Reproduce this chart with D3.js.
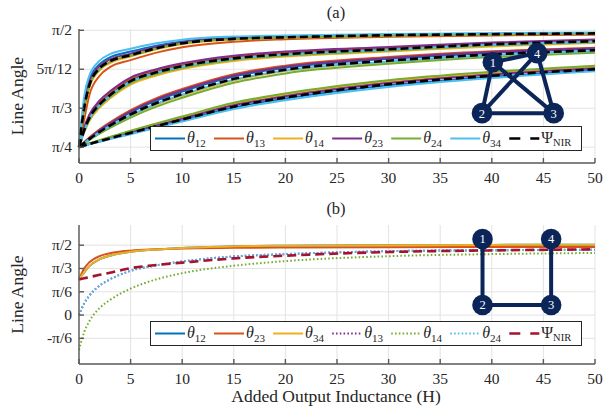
<!DOCTYPE html>
<html>
<head>
<meta charset="utf-8">
<script src="https://cdn.jsdelivr.net/npm/d3@7"></script>
<style>
  body { margin: 0; background: #fff; }
  text { font-family: "Liberation Serif", "DejaVu Serif", serif; fill: #262626; }
</style>
</head>
<body>
<div id="vis"></div>
<script>
// Sample points on the x axis (added output inductance, H)
const xs = [0, 0.5, 1, 2, 3, 5, 7.5, 10, 15, 20, 30, 40, 50];

// Panel (a): four cases (top bundle -> bottom bundle), angles in degrees
const aT12 = [
  [45, 62.5, 71.0, 77.0, 79.6, 81.8, 84.1, 85.7, 87.2, 87.7, 88.4, 88.8, 89.0],
  [45, 51.9, 56.7, 62.0, 65.5, 70.9, 74.2, 76.6, 79.5, 81.1, 83.0, 84.8, 86.0],
  [45, 46.7, 48.4, 51.4, 53.9, 58.4, 62.9, 66.4, 72.2, 75.6, 79.0, 81.3, 82.8],
  [45, 45.6, 46.2, 47.2, 48.3, 50.3, 52.9, 55.3, 60.3, 63.7, 68.8, 72.1, 74.7]
];
const aT13 = [
  [45, 55.5, 65.0, 72.5, 75.8, 78.5, 81.4, 83.5, 85.6, 86.6, 87.5, 88.0, 88.3],
  [45, 52.2, 57.1, 62.5, 66.0, 71.3, 74.6, 76.9, 79.8, 81.4, 83.2, 85.0, 86.2],
  [45, 46.9, 48.7, 51.9, 54.6, 59.3, 63.9, 67.4, 73.1, 76.4, 79.7, 81.9, 83.3],
  [45, 45.7, 46.3, 47.5, 48.7, 51.0, 53.7, 56.3, 61.5, 65.1, 70.2, 73.4, 75.8]
];
const aT14 = [
  [45, 59.0, 68.0, 74.6, 77.4, 79.9, 82.7, 84.7, 86.5, 87.1, 87.9, 88.4, 88.7],
  [45, 50.6, 55.1, 60.2, 63.7, 69.1, 72.6, 75.1, 78.2, 79.9, 81.8, 83.8, 85.1],
  [45, 46.5, 47.9, 50.6, 52.9, 57.1, 61.4, 64.9, 70.7, 74.3, 77.8, 80.3, 81.9],
  [45, 45.7, 46.4, 47.6, 48.8, 51.1, 53.9, 56.5, 61.7, 65.3, 70.4, 73.6, 76.0]
];
const aT23 = [
  [45, 61.0, 69.8, 76.2, 78.8, 81.0, 83.6, 85.4, 86.9, 87.5, 88.3, 88.6, 88.9],
  [45, 52.5, 57.5, 63.0, 66.5, 71.8, 75.0, 77.3, 80.2, 81.8, 83.6, 85.3, 86.5],
  [45, 46.8, 48.5, 51.6, 54.2, 58.8, 63.4, 66.9, 72.6, 76.0, 79.3, 81.6, 83.1],
  [45, 45.6, 46.3, 47.4, 48.6, 50.8, 53.4, 56.0, 61.1, 64.6, 69.7, 73.0, 75.4]
];
const aT24 = [
  [45, 59.5, 68.4, 75.0, 77.8, 80.2, 82.9, 84.9, 86.6, 87.2, 88.0, 88.5, 88.8],
  [45, 51.0, 55.6, 60.8, 64.3, 69.7, 73.2, 75.6, 78.7, 80.3, 82.2, 84.2, 85.4],
  [45, 46.4, 47.7, 50.2, 52.4, 56.4, 60.6, 64.0, 69.8, 73.4, 77.1, 79.7, 81.4],
  [45, 45.7, 46.4, 47.7, 48.9, 51.3, 54.1, 56.8, 62.1, 65.7, 70.8, 74.0, 76.4]
];
const aT34 = [
  [45, 64.5, 72.5, 78.3, 80.8, 82.9, 85.0, 86.4, 87.6, 88.0, 88.6, 88.9, 89.2],
  [45, 51.3, 55.9, 61.2, 64.7, 70.1, 73.6, 76.0, 79.0, 80.6, 82.5, 84.4, 85.6],
  [45, 46.5, 48.0, 50.7, 53.1, 57.3, 61.7, 65.2, 71.0, 74.5, 78.0, 80.4, 82.0],
  [45, 45.5, 46.1, 47.1, 48.1, 50.0, 52.5, 54.9, 59.7, 63.1, 68.2, 71.6, 74.2]
];
const aPsi = [
  [45, 60.0, 68.8, 75.4, 78.1, 80.4, 83.1, 85.0, 86.7, 87.3, 88.1, 88.5, 88.8],
  [45, 51.5, 56.2, 61.5, 65.0, 70.4, 73.8, 76.2, 79.2, 80.8, 82.7, 84.6, 85.8],
  [45, 46.6, 48.1, 50.9, 53.3, 57.6, 62.0, 65.5, 71.3, 74.8, 78.3, 80.7, 82.3],
  [45, 45.6, 46.2, 47.3, 48.4, 50.5, 53.1, 55.6, 60.6, 64.1, 69.2, 72.5, 75.0]
];

// Panel (b): square network, angles in degrees
const bT12 = [46, 55, 63, 72, 76.5, 81.5, 84.5, 86.5, 88.5, 89.3, 90.0, 90.4, 90.6];
const bT23 = [46, 60, 68, 76, 79.5, 83, 84.8, 85.8, 86.6, 87.0, 87.4, 87.6, 87.8];
const bT34 = [46, 55, 63, 72, 76.5, 81.5, 84.5, 86.5, 88.5, 89.3, 90.0, 90.4, 90.6];
const bT13 = [0, 15, 25, 38, 46, 57, 64, 69, 75.5, 78.5, 82.3, 83.5, 84.2];
const bT14 = [-45, -22, -8, 9, 19.5, 34, 46, 54, 63.5, 69.5, 75.8, 78.5, 80];
const bT24 = [0, 15, 25, 38, 46, 57, 64, 69, 75.5, 78.5, 82.3, 83.5, 84.2];
const bPsi = [45.9, 47.4, 48.9, 51.8, 54.5, 60.4, 64.5, 67.5, 73, 76.5, 81.2, 83.3, 84.6];

// Ticks
const xTicks = [0, 5, 10, 15, 20, 25, 30, 35, 40, 45, 50];
const aTicks = [45, 60, 75, 90];
const aTickLabels = ['π/4', 'π/3', '5π/12', 'π/2'];
const bTicks = [-30, 0, 30, 60, 90];
const bTickLabels = ['-π/6', '0', 'π/6', 'π/3', 'π/2'];

// Network diagrams (node positions in data units of each panel)
const aNodes = [[1, 40.1, 77.7], [2, 39.05, 58.1], [3, 46.0, 58.1], [4, 44.4, 81.2]];
const aEdges = [[1, 2], [1, 3], [1, 4], [2, 3], [2, 4], [3, 4]];
const bNodes = [[1, 39.1, 98], [2, 39.1, 13], [3, 45.75, 13], [4, 45.75, 98]];
const bEdges = [[1, 2], [2, 3], [3, 4]];

const C = {
  blue: '#0072BD', orange: '#D95319', yellow: '#EDB120', purple: '#7E2F8E',
  green: '#77AC30', cyan: '#4DBEEE', red: '#A2142F', navy: '#0b2559'
};

const W = 605, H = 408;
const svg = d3.select('#vis').append('svg').attr('width', W).attr('height', H);

const x = d3.scaleLinear().domain([0, 50]).range([79, 595]);

function drawPanel(p) {
  const y = d3.scaleLinear().domain(p.yDomain).range([p.bottom, p.top]);
  const g = svg.append('g');

  // grid
  g.selectAll('.vg').data(xTicks).join('line')
    .attr('x1', d => x(d)).attr('x2', d => x(d))
    .attr('y1', p.top).attr('y2', p.bottom)
    .attr('stroke', '#e3e3e3').attr('stroke-width', 1);
  g.selectAll('.hg').data(p.ticks).join('line')
    .attr('x1', x(0)).attr('x2', x(50))
    .attr('y1', d => y(d)).attr('y2', d => y(d))
    .attr('stroke', '#e3e3e3').attr('stroke-width', 1);

  // lines
  const line = d3.line().x((d, i) => x(xs[i])).y(d => y(d)).curve(d3.curveMonotoneX);
  const lg = g.append('g');
  p.series.forEach(s => {
    s.rows.forEach(r => {
      lg.append('path').attr('d', line(r))
        .attr('fill', 'none').attr('stroke', s.color)
        .attr('stroke-width', s.width || 2)
        .attr('stroke-dasharray', s.dash || null);
    });
  });

  // axes (ticks inward, MATLAB style)
  const ax = g.append('g').attr('stroke', '#595959').attr('stroke-width', 1.4);
  ax.append('line').attr('x1', x(0)).attr('x2', x(0)).attr('y1', p.top).attr('y2', p.bottom);
  ax.append('line').attr('x1', x(0)).attr('x2', x(50)).attr('y1', p.bottom).attr('y2', p.bottom);
  ax.selectAll('.xt').data(xTicks).join('line')
    .attr('x1', d => x(d)).attr('x2', d => x(d))
    .attr('y1', p.bottom).attr('y2', p.bottom - 5);
  ax.selectAll('.yt').data(p.ticks).join('line')
    .attr('x1', x(0)).attr('x2', x(0) + 5)
    .attr('y1', d => y(d)).attr('y2', d => y(d));

  g.selectAll('.xl').data(xTicks).join('text')
    .attr('x', d => x(d)).attr('y', p.bottom + 20)
    .attr('text-anchor', 'middle').attr('font-size', 15.5)
    .text(d => d);
  g.selectAll('.yl').data(p.ticks).join('text')
    .attr('x', x(0) - 7).attr('y', d => y(d) + 5)
    .attr('text-anchor', 'end').attr('font-size', 15.5)
    .text((d, i) => p.tickLabels[i]);

  g.append('text')
    .attr('transform', `translate(23,${(p.top + p.bottom) / 2}) rotate(-90)`)
    .attr('text-anchor', 'middle').attr('font-size', 17.5)
    .text('Line Angle');

  g.append('text').attr('x', 336).attr('y', p.top - 11)
    .attr('text-anchor', 'middle').attr('font-size', 16.5).text(p.title);

  // network diagram
  const pos = {};
  p.nodes.forEach(n => pos[n[0]] = [x(n[1]), y(n[2])]);
  const ng = g.append('g');
  ng.selectAll('.e').data(p.edges).join('line')
    .attr('x1', d => pos[d[0]][0]).attr('y1', d => pos[d[0]][1])
    .attr('x2', d => pos[d[1]][0]).attr('y2', d => pos[d[1]][1])
    .attr('stroke', C.navy).attr('stroke-width', 4);
  ng.selectAll('.n').data(p.nodes).join('circle')
    .attr('cx', d => pos[d[0]][0]).attr('cy', d => pos[d[0]][1])
    .attr('r', 10.3).attr('fill', C.navy);
  ng.selectAll('.nl').data(p.nodes).join('text')
    .attr('x', d => pos[d[0]][0]).attr('y', d => pos[d[0]][1] + 4.5)
    .attr('text-anchor', 'middle').attr('font-size', 12.5)
    .style('fill', '#fff').text(d => d[0]);

  // legend
  const ly = p.legendY;
  const leg = g.append('g');
  leg.append('rect').attr('x', 150.5).attr('y', ly - 12).attr('width', 431).attr('height', 24)
    .attr('fill', '#fff').attr('stroke', '#262626').attr('stroke-width', 1);
  p.series.forEach((s, i) => {
    const x0 = 155 + i * 59.05;
    leg.append('line').attr('x1', x0).attr('x2', x0 + 30).attr('y1', ly).attr('y2', ly)
      .attr('stroke', s.color).attr('stroke-width', s.width || 2)
      .attr('stroke-dasharray', s.legendDash || s.dash || null);
    const t = leg.append('text').attr('x', x0 + 32).attr('y', ly + 4).attr('font-size', 16);
    if (s.sub === 'NIR') {
      t.append('tspan').text('Ψ');
      t.append('tspan').attr('font-size', 10.5).attr('dy', 3).text('NIR');
    } else {
      t.append('tspan').style('font-style', 'italic').text('θ');
      t.append('tspan').attr('font-size', 11).attr('dy', 4).text(s.sub);
    }
  });
}

const dotted = '1.6,2.2';

drawPanel({
  title: '(a)', top: 29, bottom: 163, yDomain: [38.9, 90.5],
  ticks: aTicks, tickLabels: aTickLabels, legendY: 138.5,
  nodes: aNodes, edges: aEdges,
  series: [
    { sub: '12', color: C.blue, rows: aT12 },
    { sub: '13', color: C.orange, rows: aT13 },
    { sub: '14', color: C.yellow, rows: aT14 },
    { sub: '23', color: C.purple, rows: aT23 },
    { sub: '24', color: C.green, rows: aT24 },
    { sub: '34', color: C.cyan, rows: aT34 },
    { sub: 'NIR', color: '#000', rows: aPsi, width: 2.6, dash: '8,4', legendDash: '11,10' }
  ]
});

drawPanel({
  title: '(b)', top: 225, bottom: 364, yDomain: [-63, 116],
  ticks: bTicks, tickLabels: bTickLabels, legendY: 333.5,
  nodes: bNodes, edges: bEdges,
  series: [
    { sub: '12', color: C.blue, rows: [bT12] },
    { sub: '23', color: C.orange, rows: [bT23] },
    { sub: '34', color: C.yellow, rows: [bT34] },
    { sub: '13', color: C.purple, rows: [bT13], dash: dotted },
    { sub: '14', color: C.green, rows: [bT14], dash: dotted },
    { sub: '24', color: C.cyan, rows: [bT24], dash: dotted },
    { sub: 'NIR', color: C.red, rows: [bPsi], width: 2.6, dash: '9,5', legendDash: '11,10' }
  ]
});

svg.append('text').attr('x', 336).attr('y', 402)
  .attr('text-anchor', 'middle').attr('font-size', 17.5)
  .text('Added Output Inductance (H)');
</script>
</body>
</html>
